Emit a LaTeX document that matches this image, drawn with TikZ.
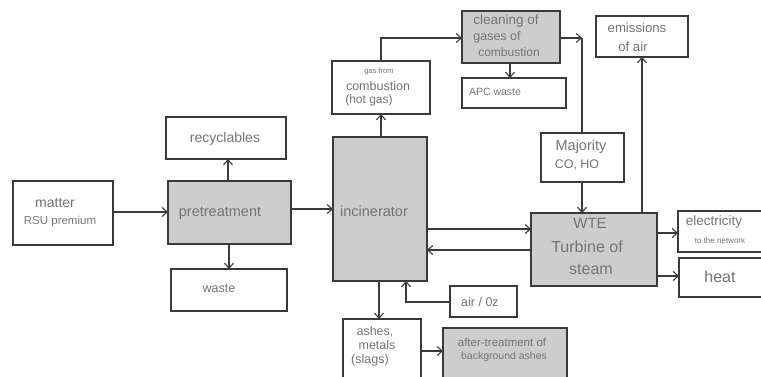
\documentclass[tikz,border=0pt]{standalone}
\usepackage{fontspec}
\setmainfont{Liberation Sans}
\usetikzlibrary{arrows.meta,fit}
\definecolor{linec}{HTML}{3A3A3A}
\definecolor{txtc}{HTML}{747474}
\definecolor{grayfill}{HTML}{CDCDCD}
\tikzset{
  box/.style={draw=linec, line width=1.1pt, fill=white, inner sep=0pt, outer sep=0pt, rectangle},
  gbox/.style={box, fill=grayfill},
  arr/.style={draw=linec, line width=1.1pt, -{Straight Barb[length=5pt,width=9pt,line width=1.1pt]}},
  ln/.style={draw=linec, line width=1.1pt},
  txt/.style={text=txtc, inner sep=0pt, font=\fontsize{#1}{#1}\selectfont},
  txt/.default=13
}
\begin{document}
\begin{tikzpicture}[x=1pt,y=-1pt]
\useasboundingbox (0,0) rectangle (761,376);
\clip (0,0) rectangle (761,376);
% boxes
\node[box, fit={(13,181) (113,245)}] (matter) {};
\node[gbox, fit={(168,181) (291,244)}] (pre) {};
\node[box, fit={(166,117) (286,159)}] (recy) {};
\node[box, fit={(171,269) (287,311)}] (waste) {};
\node[gbox, fit={(333,137) (427,281)}] (incin) {};
\node[box, fit={(332,61) (430,114)}] (gas) {};
\node[gbox, fit={(462,11) (560,63)}] (clean) {};
\node[box, fit={(462,78) (566,108)}] (apc) {};
\node[box, fit={(596,16) (688,57)}] (emis) {};
\node[box, fit={(541,133) (624,182)}] (maj) {};
\node[gbox, fit={(531,213) (657,286)}] (wte) {};
\node[box, fit={(678,211) (775,252)}] (elec) {};
\node[box, fit={(679,258) (775,297)}] (heat) {};
\node[box, fit={(450,286) (517,317)}] (air) {};
\node[box, fit={(343,319) (421,390)}] (ashes) {};
\node[gbox, fit={(443,328) (567,390)}] (after) {};
% texts
\node[txt=14] (t-matter1) at (55,203) {matter};
\node[txt=11.5] (t-matter2) at (60,222) {RSU premium};
\node[txt=14.5] (t-pre) at (220,213) {pretreatment};
\node[txt=14] (t-recy) at (225,139) {recyclables};
\node[txt=12.5] (t-waste) at (219,289) {waste};
\node[txt=14.5] (t-incin) at (374,211) {incinerator};
\node[txt=7.5] (t-gas1) at (379,72) {gas from};
\node[txt=12.5] (t-gas2) at (378,86) {combustion};
\node[txt=12] (t-gas3) at (369,100) {(hot gas)};
\node[txt=13.5] (t-clean1) at (506,21) {cleaning of};
\node[txt=12.5] (t-clean2) at (497,37) {gases of};
\node[txt=12] (t-clean3) at (509,52) {combustion};
\node[txt=10.5] (t-apc) at (495,92) {APC waste};
\node[txt=13.2] (t-emis1) at (637,28) {emissions};
\node[txt=13.2] (t-emis2) at (633,47) {of air};
\node[txt=14.5] (t-maj1) at (581,147) {Majority};
\node[txt=12.5] (t-maj2) at (577,165) {CO, HO};
\node[txt=15] (t-wte1) at (590,223) {WTE};
\node[txt=16] (t-wte2) at (587,247) {Turbine of};
\node[txt=16] (t-wte3) at (591,269) {steam};
\node[txt=13.5] (t-elec1) at (714,222) {electricity};
\node[txt=8] (t-elec2) at (720,241) {to the network};
\node[txt=16] (t-heat) at (720,277) {heat};
\node[txt=12.5] (t-air) at (480,302) {air / 0z};
\node[txt=12.5] (t-ash1) at (375,332) {ashes,};
\node[txt=12.5] (t-ash2) at (377,345) {metals};
\node[txt=12.5] (t-ash3) at (370,360) {(slags)};
\node[txt=11.5] (t-after1) at (502,342) {after-treatment of};
\node[txt=10.5] (t-after2) at (504,357) {background ashes};
% connectors
\coordinate (c-corner) at (582,38);
\draw[arr] (matter.east |- 0,212) -- (pre.west |- 0,212);
\draw[arr] (pre.north -| 228,0) -- (recy.south -| 228,0);
\draw[arr] (pre.south -| 229,0) -- (waste.north -| 229,0);
\draw[arr] (pre.east |- 0,209) -- (incin.west |- 0,209);
\draw[arr] (incin.north -| 381,0) -- (gas.south -| 381,0);
\draw[arr] (gas.north -| 381,0) |- (clean.west |- 0,38);
\draw[arr] (clean.south -| 510,0) -- (apc.north -| 510,0);
\draw[arr] (clean.east |- 0,38) -- (c-corner);
\draw[ln] (c-corner) -- (maj.north -| c-corner);
\draw[arr] (maj.south -| 582,0) -- (wte.north -| 582,0);
\draw[arr] (wte.north -| 642,0) -- (emis.south -| 642,0);
\draw[arr] (incin.east |- 0,229) -- (wte.west |- 0,229);
\draw[arr] (wte.west |- 0,250) -- (incin.east |- 0,250);
\draw[arr] (wte.east |- 0,233) -- (elec.west |- 0,233);
\draw[arr] (wte.east |- 0,276) -- (heat.west |- 0,276);
\draw[arr] (air.west |- 0,302) -| (incin.south -| 406,0);
\draw[arr] (incin.south -| 379,0) -- (ashes.north -| 379,0);
\draw[arr] (ashes.east |- 0,351) -- (after.west |- 0,351);
\end{tikzpicture}
\end{document}
